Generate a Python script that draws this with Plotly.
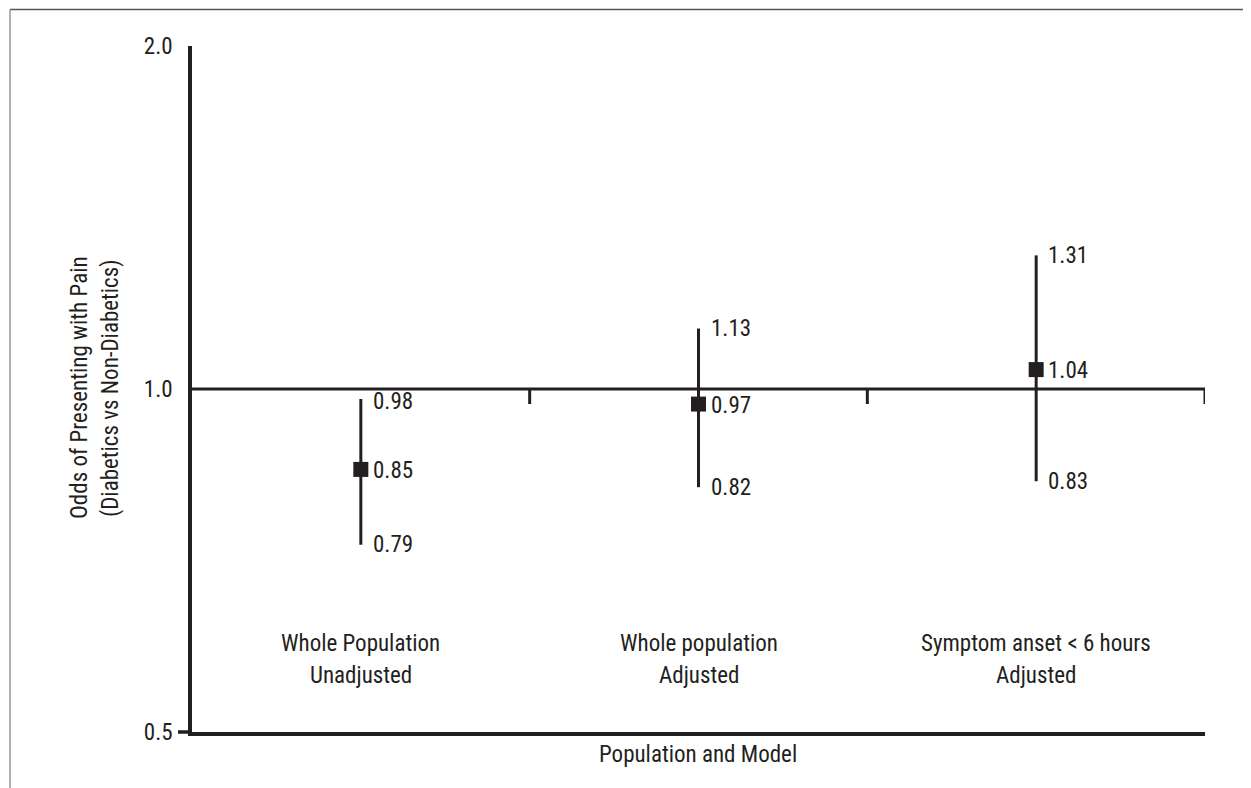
import math
import plotly.graph_objects as go

# ---- data ----
categories = ["Whole Population<br>Unadjusted", "Whole population<br>Adjusted", "Symptom anset < 6 hours<br>Adjusted"]
odds_ratio = [0.85, 0.97, 1.04]
ci_high = [0.98, 1.13, 1.31]
ci_low_drawn = [0.73, 0.82, 0.83]          # lower whisker end as drawn in the figure
label_high = ["0.98", "1.13", "1.31"]
label_mid = ["0.85", "0.97", "1.04"]
label_low = ["0.79", "0.82", "0.83"]
y_tick_vals = [0.5, 1.0, 2.0]
y_tick_text = ["0.5", "1.0", "2.0"]
y_min, y_max = 0.5, 2.0
ref_value = 1.0
x_title = "Population and Model"
y_title_lines = ["Odds of Presenting with Pain", "(Diabetics vs Non-Diabetics)"]

INK = "#231f20"
FONT = "Roboto Condensed, Liberation Sans Narrow, Arial Narrow, Liberation Sans, Arial, sans-serif"
FS = 23
OFF = 8                      # page body margin
W, H = 1251 - OFF, 788 - OFF
# plot area in page pixels: x 192..1205, y 46..732
L, T = 192 - OFF, 46 - OFF
R = W - (1205 - OFF)
B = H - (732 - OFF)
pw, ph = W - L - R, H - T - B

def px_x(p):                 # page px -> paper x
    return (p - OFF - L) / pw

def px_y(p):                 # page px -> paper y
    return (H - B - (p - OFF)) / ph

def val_to_paper_y(v):       # data value -> paper y on the log axis
    return (math.log10(v) - math.log10(y_min)) / (math.log10(y_max) - math.log10(y_min))

fig = go.Figure()
fig.add_trace(go.Scatter(
    x=categories, y=odds_ratio, mode="markers",
    marker=dict(symbol="square", size=15, color=INK),
    error_y=dict(type="data", symmetric=False,
                 array=[h - v for h, v in zip(ci_high, odds_ratio)],
                 arrayminus=[v - l for v, l in zip(odds_ratio, ci_low_drawn)],
                 width=0, thickness=3, color=INK),
    showlegend=False, hoverinfo="skip",
))

font = dict(size=FS, color=INK, family=FONT)
annotations = []
for c, v, hi, lo, th, tm, tl in zip(categories, odds_ratio, ci_high, ci_low_drawn,
                                     label_high, label_mid, label_low):
    for yy, tt, ys in ((hi, th, -2 if hi < ref_value else 0), (v, tm, -1), (lo, tl, 0)):
        annotations.append(dict(x=c, y=math.log10(yy), yref="y", xref="x", text=tt,
                                showarrow=False, xanchor="left", yanchor="middle",
                                xshift=10, yshift=ys, font=font))
    for i, line in enumerate(c.split("<br>")):
        annotations.append(dict(x=c, y=px_y(643 + 32 * i), xref="x", yref="paper", text=line,
                                showarrow=False, xanchor="center", yanchor="middle", font=font))
# axis titles
annotations.append(dict(x=px_x(698), y=px_y(754), xref="paper", yref="paper", text=x_title,
                        showarrow=False, xanchor="center", yanchor="middle", font=font))
for i, line in enumerate(y_title_lines):
    annotations.append(dict(x=px_x(80 + 31 * i), y=px_y(388), xref="paper", yref="paper",
                            text=line, textangle=-90, showarrow=False,
                            xanchor="center", yanchor="middle", font=font))

shapes = []
# reference line at OR = 1
shapes.append(dict(type="line", xref="x", yref="y", x0=-0.5, x1=2.5, y0=ref_value, y1=ref_value,
                   line=dict(color=INK, width=3)))
# category separator ticks hanging below reference line
ref_p = val_to_paper_y(ref_value)
for xs in (0.5, 1.5, 2.5):
    shapes.append(dict(type="line", xref="x", yref="paper",
                       x0=xs, x1=xs, y0=ref_p, y1=ref_p - 15 / ph,
                       line=dict(color=INK, width=3)))
# x-axis line extension left of the y-axis at the bottom
shapes.append(dict(type="line", xref="paper", yref="paper",
                   x0=-14 / pw, x1=0, y0=0, y1=0, line=dict(color=INK, width=3.5)))
# outer frame (top and left edges)
shapes.append(dict(type="line", xref="paper", yref="paper", x0=px_x(10), x1=px_x(1270),
                   y0=px_y(9.5), y1=px_y(9.5), line=dict(color="#555555", width=1.5)))
shapes.append(dict(type="line", xref="paper", yref="paper", x0=px_x(10), x1=px_x(10),
                   y0=px_y(9.5), y1=px_y(800), line=dict(color="#999999", width=1.5)))

fig.update_layout(
    width=W, height=H,
    margin=dict(l=L, r=R, t=T, b=B, autoexpand=False),
    paper_bgcolor="white", plot_bgcolor="white",
    font=font,
    annotations=annotations, shapes=shapes,
    xaxis=dict(type="category", range=[-0.5, 2.5], showticklabels=False, ticks="",
               showgrid=False, zeroline=False, showline=True, linewidth=3.5, linecolor=INK,
               automargin=False),
    yaxis=dict(type="log", range=[math.log10(y_min), math.log10(y_max)],
               tickvals=y_tick_vals, ticktext=y_tick_text,
               ticks="", showgrid=False, zeroline=False, showline=True, linewidth=3.5,
               linecolor=INK, ticklabelstandoff=11, tickfont=font, automargin=False),
)

fig.write_html("out.html")
